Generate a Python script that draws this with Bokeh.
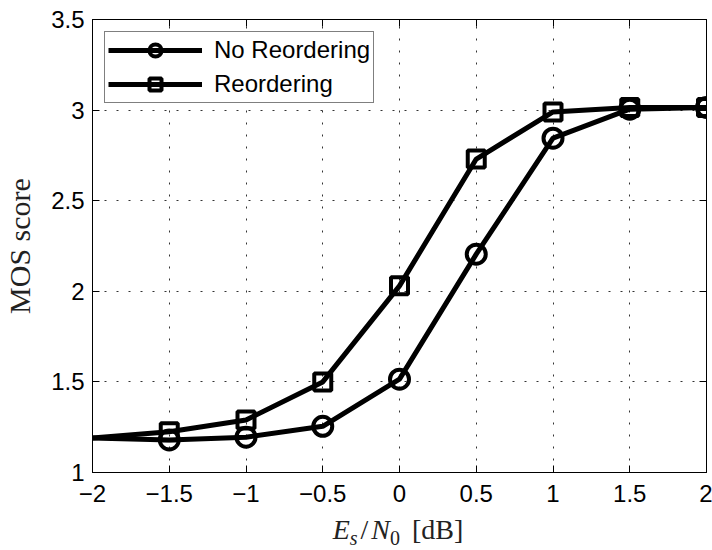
from bokeh.plotting import figure
from bokeh.models import (ColumnDataSource, Range1d, LinearAxis, FixedTicker,
                          Legend, LegendItem, CDSView, IndexFilter, Div)
from bokeh.layouts import column
from bokeh.embed import file_html
from bokeh.resources import INLINE

# Es/N0 in dB and MOS score for the two schemes
esn0 = [-2.0, -1.5, -1.0, -0.5, 0.0, 0.5, 1.0, 1.5, 2.0]
mos_no_reorder = [1.19, 1.18, 1.195, 1.255, 1.515, 2.205, 2.845, 3.005, 3.015]
mos_reorder = [1.19, 1.225, 1.29, 1.50, 2.03, 2.73, 2.99, 3.015, 3.015]

x_ticks = [-2, -1.5, -1, -0.5, 0, 0.5, 1, 1.5, 2]
x_tick_labels = ["\u22122", "\u22121.5", "\u22121", "\u22120.5", "0", "0.5", "1", "1.5", "2"]
y_ticks = [1, 1.5, 2, 2.5, 3, 3.5]
y_tick_labels = ["1", "1.5", "2", "2.5", "3", "3.5"]

SANS = "Liberation Sans"
SERIF = "Liberation Serif"

p = figure(width=712, height=512, output_backend="svg", toolbar_location=None,
           x_range=Range1d(-2, 2), y_range=Range1d(1, 3.5),
           min_border_left=90, min_border_right=6, min_border_top=19,
           min_border_bottom=40, background_fill_color="white",
           border_fill_color="white")
p.outline_line_color = "black"
p.outline_line_width = 1

# axes: inward ticks on all four sides
def style_axis(ax, ticks, labels, show_labels=True):
    ax.ticker = FixedTicker(ticks=ticks)
    ax.major_label_overrides = {t: l for t, l in zip(ticks, labels)}
    ax.major_tick_in = 7
    ax.major_tick_out = 0
    ax.minor_tick_in = 0
    ax.minor_tick_out = 0
    ax.axis_line_color = "black"
    ax.major_tick_line_color = "black"
    ax.major_label_text_font = SANS
    ax.major_label_text_font_size = "24px" if show_labels else "0px"
    ax.major_label_text_color = "black" if show_labels else None

style_axis(p.xaxis[0], x_ticks, x_tick_labels)
style_axis(p.yaxis[0], y_ticks, y_tick_labels)
p.xaxis[0].major_label_standoff = 12
p.yaxis[0].major_label_standoff = 8

top_axis = LinearAxis()
right_axis = LinearAxis()
style_axis(top_axis, x_ticks, x_tick_labels, show_labels=False)
style_axis(right_axis, y_ticks, y_tick_labels, show_labels=False)
p.add_layout(top_axis, "above")
p.add_layout(right_axis, "right")

p.yaxis[0].axis_label = "MOS score"
p.yaxis[0].axis_label_text_font = SERIF
p.yaxis[0].axis_label_text_font_style = "normal"
p.yaxis[0].axis_label_text_font_size = "30px"
p.yaxis[0].axis_label_text_color = "#222222"
p.yaxis[0].axis_label_standoff = 12

# dotted grid
for g in (p.xgrid[0], p.ygrid[0]):
    g.grid_line_color = "#333333"
    g.grid_line_dash = "2 10"
    g.grid_line_width = 1
p.xgrid[0].ticker = FixedTicker(ticks=x_ticks)
p.ygrid[0].ticker = FixedTicker(ticks=y_ticks)

src = ColumnDataSource(dict(x=esn0, a=mos_no_reorder, b=mos_reorder))
marker_view = CDSView(filter=IndexFilter(list(range(1, len(esn0)))))

l1 = p.line("x", "a", source=src, line_color="black", line_width=5)
m1 = p.scatter("x", "a", source=src, view=marker_view, marker="circle", size=19,
               line_color="black", line_width=4, fill_alpha=0)
l2 = p.line("x", "b", source=src, line_color="black", line_width=5)
m2 = p.scatter("x", "b", source=src, view=marker_view, marker="square", size=17,
               line_color="black", line_width=4, fill_alpha=0)

legend = Legend(items=[LegendItem(label="No Reordering", renderers=[l1, m1]),
                       LegendItem(label="Reordering", renderers=[l2, m2])],
                location="top_left", margin=12, padding=3,
                glyph_width=94, glyph_height=30, spacing=4, label_standoff=12,
                label_text_font=SANS, label_text_font_size="24px",
                label_text_color="black", label_height=24,
                border_line_color="black", border_line_width=1,
                background_fill_color="white", background_fill_alpha=1)
p.add_layout(legend)

# x-axis label E_s/N_0 [dB] with italic symbols and subscripts
sub = "font-size:20px;position:relative;top:6px"
xlabel = Div(
    text=f"<i>E</i><i style='{sub}'>s</i>"
         f"<span style='margin:0 3px'>/</span>"
         f"<i>N</i><span style='{sub}'>0</span>"
         f"<span style='margin-left:12px'>[dB]</span>",
    width=616, height=38, margin=(0, 0, 0, 90),
    styles={"font-family": SERIF, "font-size": "28px", "color": "#222222",
            "text-align": "center", "line-height": "30px", "padding-top": "3px"})

layout = column(p, xlabel, spacing=0)
open("out.html", "w").write(file_html(layout, INLINE))
